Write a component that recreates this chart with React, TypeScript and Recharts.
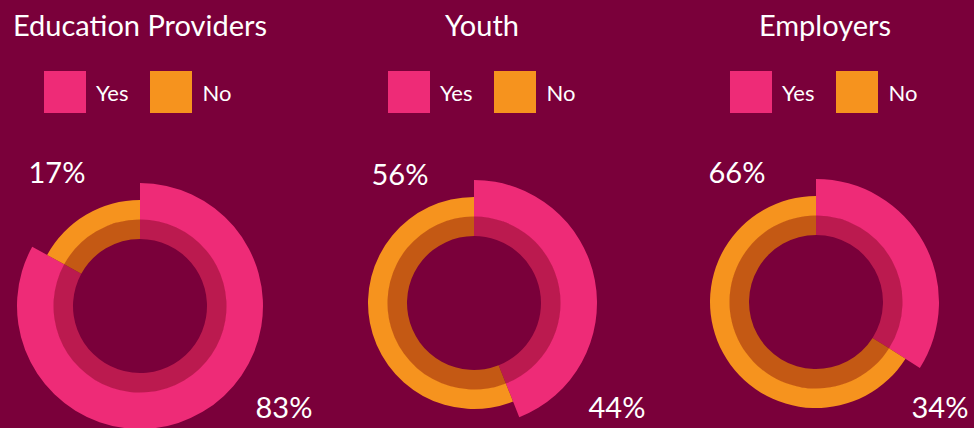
import { Cell, Pie, PieChart } from "recharts";

const groups = ["Education Providers", "Youth", "Employers"];
const categories = ["Yes", "No"];
const yesValues = [83, 44, 34];
const noValues = [17, 56, 66];

const BG = "#7a003a";
const PINK = "#ee2b77";
const ORANGE = "#f6931e";
const PINK_DARK = "#bb1a4f";
const ORANGE_DARK = "#c45914";
const FONT = "Lato, 'Open Sans', sans-serif";

// layout for each donut: centre, title centre, legend left, label offsets
const LAYOUT = [
  { cx: 140, cy: 306, titleX: 140, legendX: 44, yesLabel: [144, 112], noLabel: [-83, -123] },
  { cx: 474, cy: 303, titleX: 482, legendX: 388, yesLabel: [143, 115], noLabel: [-74, -118] },
  { cx: 816, cy: 302, titleX: 825, legendX: 730, yesLabel: [124, 116], noLabel: [-79, -119] },
];

function donutData(i: number) {
  return categories.map((name, k) => ({ name, value: k === 0 ? yesValues[i] : noValues[i] }));
}

export default function App() {
  return (
    <div style={{ position: "absolute", left: 0, top: 0, width: 974, height: 428, background: BG, overflow: "hidden", fontFamily: FONT }}>
      {groups.map((g, i) => (
        <div
          key={g}
          style={{
            position: "absolute",
            left: LAYOUT[i].titleX - 200,
            width: 400,
            top: 7,
            textAlign: "center",
            color: "#fff",
            fontSize: 29,
            lineHeight: "36px",
          }}
        >
          {g}
        </div>
      ))}
      {groups.map((g, i) => (
        <div key={g + "-legend"} style={{ position: "absolute", left: LAYOUT[i].legendX, top: 71, display: "flex", alignItems: "center" }}>
          {categories.map((c, k) => (
            <div key={c} style={{ display: "flex", alignItems: "center", marginRight: k === 0 ? 22 : 0 }}>
              <div style={{ width: 42, height: 42, background: k === 0 ? PINK : ORANGE }} />
              <span style={{ color: "#fff", fontSize: 22, marginLeft: 10 }}>{c}</span>
            </div>
          ))}
        </div>
      ))}
      <div style={{ position: "absolute", left: 0, top: 0 }}>
        <PieChart width={974} height={428} margin={{ top: 0, right: 0, bottom: 0, left: 0 }}>
          {groups.map((g, i) => {
            const data = donutData(i);
            const L = LAYOUT[i];
            return [
              <Pie
                key={g + "-inner"}
                data={data}
                dataKey="value"
                cx={L.cx}
                cy={L.cy}
                innerRadius={67}
                outerRadius={87}
                startAngle={90}
                endAngle={-270}
                stroke="none"
                isAnimationActive={false}
              >
                {data.map((d, k) => (
                  <Cell key={d.name} fill={k === 0 ? PINK_DARK : ORANGE_DARK} />
                ))}
              </Pie>,
              <Pie
                key={g + "-yes"}
                data={data}
                dataKey="value"
                cx={L.cx}
                cy={L.cy}
                innerRadius={86.5}
                outerRadius={123}
                startAngle={90}
                endAngle={-270}
                stroke="none"
                isAnimationActive={false}
              >
                {data.map((d, k) => (
                  <Cell key={d.name} fill={k === 0 ? PINK : "transparent"} />
                ))}
              </Pie>,
              <Pie
                key={g + "-no"}
                data={data}
                dataKey="value"
                cx={L.cx}
                cy={L.cy}
                innerRadius={86.5}
                outerRadius={106}
                startAngle={90}
                endAngle={-270}
                stroke="none"
                isAnimationActive={false}
                labelLine={false}
                label={(p: any) => {
                  const off = p.index === 0 ? L.yesLabel : L.noLabel;
                  return (
                    <text
                      x={L.cx + off[0]}
                      y={L.cy + off[1]}
                      textAnchor="middle"
                      fill="#fff"
                      fontSize={29}
                      fontFamily={FONT}
                    >
                      {`${p.value}%`}
                    </text>
                  );
                }}
              >
                {data.map((d, k) => (
                  <Cell key={d.name} fill={k === 1 ? ORANGE : "transparent"} />
                ))}
              </Pie>,
            ];
          })}
        </PieChart>
      </div>
    </div>
  );
}
